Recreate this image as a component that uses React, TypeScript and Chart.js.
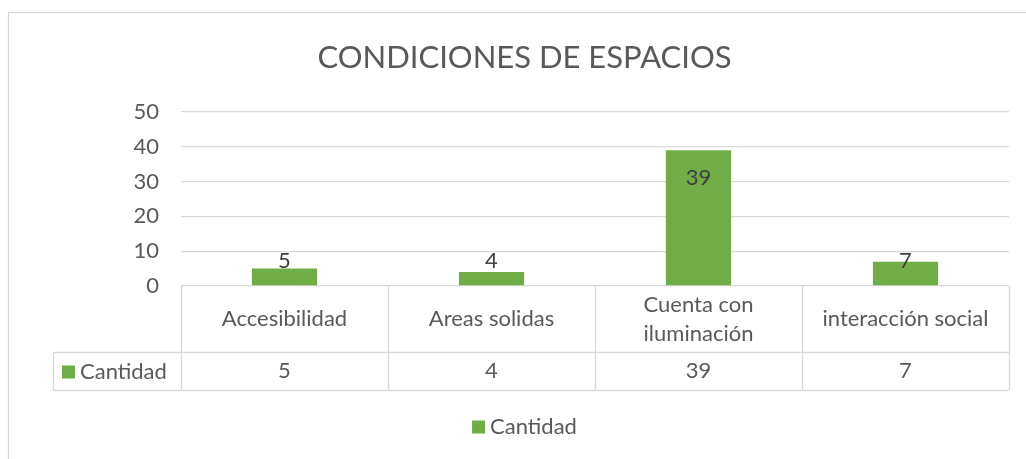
import React, { useEffect, useRef } from "react";
import { Chart, registerables } from "chart.js";

Chart.register(...registerables);

const chartTitle = "CONDICIONES DE ESPACIOS";
const seriesName = "Cantidad";
const categories: string[][] = [
  ["Accesibilidad"],
  ["Areas solidas"],
  ["Cuenta con", "iluminación"],
  ["interacción social"],
];
const values = [5, 4, 39, 7];
const yTicks = [0, 10, 20, 30, 40, 50];

const FONT = "Lato, 'Open Sans', sans-serif";
const TEXT = "#595959";
const GRID = "#d9d9d9";
const BAR = "#70ad47";

const W = 1026;
const H = 459;
const BOX_LEFT = 8;
const BOX_TOP = 12;
const CENTER_X = 524.5;
const CAT_ROW_H = 66;
const VAL_ROW_H = 38;
const HEADER_LEFT = 53;
const FS = 22;

const overlay = {
  id: "excelOverlay",
  afterDatasetsDraw(chart: any) {
    const ctx = chart.ctx;
    const meta = chart.getDatasetMeta(0);
    const yScale = chart.scales.y;
    const base = yScale.getPixelForValue(0);
    ctx.save();
    ctx.fillStyle = "#404040";
    ctx.font = `${FS}px ${FONT}`;
    ctx.textAlign = "center";
    ctx.textBaseline = "middle";
    meta.data.forEach((bar: any, i: number) => {
      const y = Math.min(bar.y + 28, base - 25);
      ctx.fillText(String(values[i]), bar.x, y);
    });
    ctx.restore();
  },
  afterDraw(chart: any) {
    const ctx = chart.ctx;
    const area = chart.chartArea;
    const xScale = chart.scales.x;
    const yScale = chart.scales.y;
    const base = Math.round(yScale.getPixelForValue(0));
    const n = categories.length;
    const cellW = (area.right - area.left) / n;
    const rowMid = base + CAT_ROW_H;
    const rowBot = rowMid + VAL_ROW_H;

    ctx.save();
    // outer chart border
    ctx.strokeStyle = GRID;
    ctx.lineWidth = 1.3;
    ctx.strokeRect(BOX_LEFT + 0.5, BOX_TOP + 0.5, W + 100, H + 100);

    // title
    ctx.fillStyle = TEXT;
    ctx.font = `31px ${FONT}`;
    ctx.textAlign = "center";
    ctx.textBaseline = "middle";
    ctx.fillText(chartTitle, CENTER_X, 58);

    // data table lines
    ctx.strokeStyle = GRID;
    ctx.lineWidth = 1.3;
    ctx.beginPath();
    for (let i = 0; i <= n; i++) {
      const x = Math.round(area.left + i * cellW) + 0.5;
      ctx.moveTo(x, base);
      ctx.lineTo(x, rowBot);
    }
    ctx.moveTo(HEADER_LEFT + 0.5, rowMid + 0.5);
    ctx.lineTo(area.right, rowMid + 0.5);
    ctx.moveTo(HEADER_LEFT + 0.5, rowBot + 0.5);
    ctx.lineTo(area.right, rowBot + 0.5);
    ctx.moveTo(HEADER_LEFT + 0.5, rowMid + 0.5);
    ctx.lineTo(HEADER_LEFT + 0.5, rowBot + 0.5);
    ctx.stroke();

    // category labels and values
    ctx.fillStyle = TEXT;
    ctx.font = `${FS}px ${FONT}`;
    ctx.textAlign = "center";
    ctx.textBaseline = "middle";
    const lineH = 29;
    categories.forEach((lines, i) => {
      const cx = xScale.getPixelForValue(i);
      const cy = base + CAT_ROW_H / 2;
      const startY = cy - ((lines.length - 1) * lineH) / 2;
      lines.forEach((ln, j) => ctx.fillText(ln, cx, startY + j * lineH));
      ctx.fillText(String(values[i]), cx, rowMid + VAL_ROW_H / 2);
    });

    // header cell: legend key + series name
    const keySize = 13;
    const keyX = HEADER_LEFT + 9;
    const rowCy = rowMid + VAL_ROW_H / 2 + 1;
    ctx.fillStyle = BAR;
    ctx.fillRect(keyX, rowCy - keySize / 2, keySize, keySize);
    ctx.fillStyle = TEXT;
    ctx.textAlign = "left";
    ctx.fillText(seriesName, keyX + keySize + 5, rowCy);

    // bottom legend
    ctx.font = `${FS}px ${FONT}`;
    const tw = ctx.measureText(seriesName).width;
    const total = keySize + 5 + tw;
    const lx = CENTER_X - total / 2;
    const ly = 427;
    ctx.fillStyle = BAR;
    ctx.fillRect(lx, ly - keySize / 2, keySize, keySize);
    ctx.fillStyle = TEXT;
    ctx.fillText(seriesName, lx + keySize + 5, ly);
    ctx.restore();
  },
};

export default function App() {
  const canvasRef = useRef<HTMLCanvasElement | null>(null);
  useEffect(() => {
    const canvas = canvasRef.current;
    if (!canvas) return;
    const chart = new Chart(canvas, {
      type: "bar",
      data: {
        labels: categories.map((c) => c.join(" ")),
        datasets: [
          {
            label: seriesName,
            data: values,
            backgroundColor: BAR,
            borderWidth: 0,
            categoryPercentage: 1,
            barPercentage: 0.315,
          },
        ],
      },
      plugins: [overlay],
      options: {
        responsive: false,
        animation: false,
        devicePixelRatio: 1,
        layout: { padding: { left: 0, top: 112, right: 17, bottom: H - 286 } },
        plugins: {
          legend: { display: false },
          title: { display: false },
          tooltip: { enabled: false },
        },
        scales: {
          x: {
            display: false,
            grid: { display: false },
          },
          y: {
            min: 0,
            max: 50,
            afterBuildTicks: (scale: any) => {
              scale.ticks = yTicks.map((v) => ({ value: v }));
            },
            afterFit: (scale: any) => {
              scale.width = 181;
            },
            border: { display: false },
            grid: { color: GRID, lineWidth: 1.3, drawTicks: false },
            ticks: {
              color: TEXT,
              padding: 22,
              font: { family: FONT, size: FS },
            },
          },
        },
      },
    });
    return () => chart.destroy();
  }, []);
  return (
    <div style={{ position: "absolute", left: 0, top: 0, width: W, height: H, background: "#fff" }}>
      <canvas ref={canvasRef} width={W} height={H} style={{ display: "block" }} />
    </div>
  );
}
